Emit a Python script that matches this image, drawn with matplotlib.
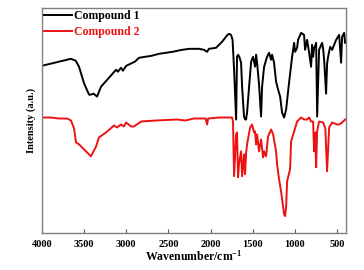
import numpy as np
import matplotlib
matplotlib.use("Agg")
import matplotlib.pyplot as plt

plt.rcParams['font.family'] = ['Liberation Serif', 'DejaVu Serif']
plt.rcParams['font.weight'] = 'bold'
plt.rcParams['mathtext.fontset'] = 'custom'
plt.rcParams['mathtext.rm'] = 'Liberation Serif:bold'
plt.rcParams['mathtext.it'] = 'Liberation Serif:bold'
plt.rcParams['mathtext.bf'] = 'Liberation Serif:bold'

# Compound 1 (wavenumber, intensity a.u.)
wn1 = [4000, 3900, 3656, 3600, 3561, 3500, 3442, 3419, 3390, 3347, 3300, 3205,
       3122, 3100, 3063, 3040, 3000, 2900, 2849, 2700, 2612, 2450, 2339, 2250,
       2137, 2080, 2042, 2020, 1936, 1865, 1800, 1781, 1758, 1740, 1722, 1698,
       1687, 1675, 1660, 1639, 1627, 1604, 1590, 1580, 1568, 1544, 1520, 1497,
       1473, 1461, 1449, 1426, 1402, 1390, 1366, 1331, 1307, 1283, 1271, 1248,
       1224, 1200, 1176, 1153, 1129, 1105, 1070, 1034, 1010, 998, 975, 963,
       927, 892, 880, 856, 832, 809, 797, 785, 773, 760, 749, 737, 714, 678,
       666, 654, 631, 619, 607, 583, 559, 512, 476, 453, 441, 417, 405]
int1 = [168, 170, 175, 173, 167, 150, 139, 139, 140, 137, 147, 156,
        164, 162, 166, 163, 168, 172, 176, 178, 180, 182, 184, 185,
        185, 184, 182, 185, 186, 192, 199, 200, 199, 194, 164, 114,
        177, 179, 177, 171, 147, 117, 114, 114, 121, 147, 172, 177,
        167, 179, 171, 149, 117, 147, 167, 177, 181, 174, 179, 171,
        152, 144, 137, 121, 116, 124, 151, 177, 191, 182, 186, 194,
        201, 199, 184, 194, 181, 167, 189, 177, 186, 188, 191, 117, 184, 191,
        185, 174, 140, 170, 177, 187, 184, 194, 199, 171, 197, 201, 191]

# Compound 2
wn2 = [4000, 3900, 3800, 3703, 3656, 3620, 3597, 3561, 3502, 3419, 3359, 3324,
       3241, 3146, 3110, 3063, 3030, 3003, 2944, 2909, 2825, 2647, 2400, 2300,
       2200, 2100, 2060, 2042, 2030, 1900, 1800, 1746, 1735, 1722, 1698, 1687,
       1675, 1663, 1639, 1627, 1604, 1592, 1580, 1568, 1532, 1509, 1485, 1473,
       1461, 1449, 1426, 1402, 1378, 1366, 1343, 1319, 1283, 1259, 1224, 1212,
       1189, 1165, 1129, 1117, 1105, 1093, 1058, 1046, 1010, 975, 927, 892,
       856, 832, 809, 785, 773, 760, 749, 737, 714, 666, 640, 619, 595, 559,
       500, 476, 441, 405]
int2 = [116, 116, 115, 115, 113, 105, 91, 89, 84, 77, 87, 96,
        101, 108, 106, 109, 107, 111, 107, 107, 112, 113, 114, 113,
        115, 115, 115, 109, 115, 116, 116, 116, 112, 57, 99, 101,
        56, 70, 82, 57, 79, 59, 80, 89, 106, 109, 101, 102,
        89, 99, 82, 94, 76, 82, 77, 97, 104, 99, 82, 69,
        54, 42, 19, 17, 26, 52, 64, 92, 102, 112, 116, 114,
        114, 116, 112, 112, 82, 101, 66, 102, 112, 111, 105, 62, 106, 111,
        109, 109, 111, 114]

xticks = [4000, 3500, 3000, 2500, 2000, 1500, 1000, 500]

fig = plt.figure(figsize=(3.64, 2.70), dpi=100)
ax = fig.add_axes([0.1154, 0.1370, 0.8351, 0.8334])

ax.plot(wn1, int1, color='black', linewidth=1.4, label='Compound 1')
ax.plot(wn2, int2, color='#ee1111', linewidth=1.4, label='Compound 2')

ax.set_xlim(4000, 395)
ax.set_ylim(0, 226)
ax.set_xticks(xticks)
ax.set_xticklabels([str(t) for t in xticks], fontsize=7.5, fontweight='bold')
ax.set_yticks([])
ax.tick_params(axis='x', direction='in', length=3, width=0.8, color='#555555', pad=5)
for s in ax.spines.values():
    s.set_color('#808080')
    s.set_linewidth(1.0)

ax.set_xlabel('Wavenumber/cm$^{-1}$', fontsize=8.5, fontweight='bold', labelpad=0)
ax.set_ylabel('Intensity (a.u.)', fontsize=7.5, fontweight='bold', labelpad=4)

ax.legend(loc='upper left', bbox_to_anchor=(0.0, 1.0), frameon=False,
          handlelength=2.3, handletextpad=0.2, borderaxespad=0, borderpad=0.2,
          labelspacing=0.3, labelcolor='linecolor',
          prop={'family': 'Liberation Serif', 'weight': 'bold', 'size': 8.5})

fig.savefig('out.png', dpi=100)
